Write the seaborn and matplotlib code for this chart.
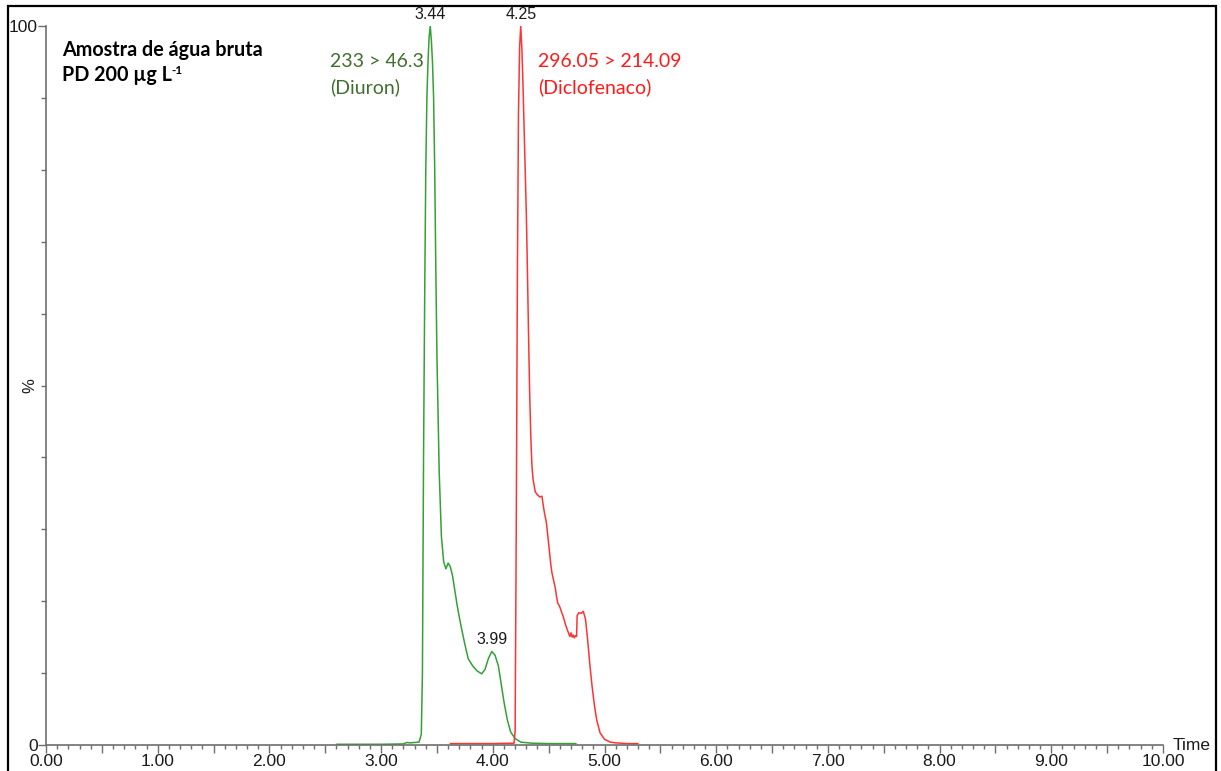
import numpy as np
import pandas as pd
import matplotlib
matplotlib.use("Agg")
import matplotlib.pyplot as plt
from matplotlib.ticker import MultipleLocator, FuncFormatter, FixedLocator
from matplotlib.patches import Rectangle
import seaborn as sns

# ---------------- data ----------------
diuron_time = [2.60, 2.80, 3.00, 3.20, 3.23, 3.26, 3.30, 3.34, 3.36, 3.37, 3.38,
               3.39, 3.40, 3.41, 3.42, 3.43, 3.44, 3.45, 3.46, 3.47, 3.48, 3.49,
               3.50, 3.52, 3.54, 3.56, 3.58, 3.60, 3.62, 3.64, 3.66, 3.68, 3.70,
               3.72, 3.75, 3.78, 3.82, 3.86, 3.90, 3.93, 3.96, 3.99, 4.02, 4.05,
               4.08, 4.10, 4.13, 4.16, 4.20, 4.25, 4.35, 4.50, 4.745]
diuron_pct = [0.1, 0.1, 0.1, 0.15, 0.35, 0.3, 0.35, 0.4, 1.5, 10, 40,
              62, 80, 90, 95, 98.5, 100, 98, 95, 90, 80, 66,
              54, 38, 29, 25.5, 24.5, 25.3, 24.8, 23.5, 21.5, 19.5, 17.8,
              16.2, 14.0, 12.0, 11.0, 10.3, 9.9, 10.5, 12.0, 13.0, 12.5, 11.0,
              8.0, 6.0, 3.5, 1.8, 0.9, 0.4, 0.25, 0.2, 0.2]

diclo_time = [3.62, 3.80, 4.00, 4.19, 4.20, 4.21, 4.22, 4.23, 4.24, 4.25, 4.26,
              4.27, 4.28, 4.29, 4.30, 4.31, 4.32, 4.33, 4.34, 4.35, 4.36, 4.38,
              4.40, 4.42, 4.44, 4.45, 4.46, 4.48, 4.50, 4.52, 4.53, 4.55, 4.56,
              4.57, 4.58, 4.60, 4.62, 4.63, 4.65, 4.67, 4.69, 4.70, 4.71, 4.72,
              4.73, 4.74, 4.75, 4.755, 4.77, 4.79, 4.81, 4.83, 4.85, 4.87, 4.89,
              4.91, 4.93, 4.96, 5.00, 5.05, 5.10, 5.20, 5.30]
diclo_pct = [0.2, 0.2, 0.2, 0.25, 2, 30, 65, 88, 97, 100, 97,
             92, 86, 80, 74, 66, 57, 49, 43, 39, 37, 35.2,
             34.8, 34.5, 34.6, 33.5, 32.5, 30.9, 28.0, 25.0, 23.9, 22.5, 21.8,
             20.7, 19.8, 19.2, 18.3, 17.9, 16.8, 15.9, 15.1, 15.6, 15.0, 15.3,
             14.9, 15.2, 15.1, 18.0, 18.4, 18.3, 18.6, 17.5, 14.5, 11.0, 8.0,
             5.5, 3.5, 1.7, 0.8, 0.4, 0.3, 0.2, 0.2]

peak_labels = [("3.44", 3.44, 100.0), ("4.25", 4.25, 100.0), ("3.99", 3.99, 13.0)]
x_major_labels = [f"{v:.2f}" for v in range(0, 11)]

# ---------------- figure ----------------
sns.set_style("ticks")
plt.rcParams['font.family'] = ['Liberation Sans', 'DejaVu Sans']

W, H = 1221, 771
fig = plt.figure(figsize=(W / 100, H / 100), dpi=100)
ax = fig.add_axes([46 / W, 26 / H, (1163 - 46) / W, (745 - 26) / H])

df_g = pd.DataFrame({"Time": diuron_time, "pct": diuron_pct})
df_r = pd.DataFrame({"Time": diclo_time, "pct": diclo_pct})
sns.lineplot(data=df_g, x="Time", y="pct", ax=ax, color="#35a035", lw=1.1,
             estimator=None, sort=False)
sns.lineplot(data=df_r, x="Time", y="pct", ax=ax, color="#ff3333", lw=1.1,
             estimator=None, sort=False)

ax.set_xlim(0, 10)
ax.set_ylim(0, 100)
for s in ["top", "right"]:
    ax.spines[s].set_visible(False)
for s in ["left", "bottom"]:
    ax.spines[s].set_color("#6e6e6e")
    ax.spines[s].set_linewidth(1.2)

ax.xaxis.set_major_locator(MultipleLocator(0.5))
ax.xaxis.set_minor_locator(MultipleLocator(0.1))
ax.xaxis.set_major_formatter(FuncFormatter(
    lambda v, p: x_major_labels[int(round(v))] if abs(v - round(v)) < 1e-6 else ""))
ax.yaxis.set_major_locator(FixedLocator([0, 100]))
ax.yaxis.set_minor_locator(MultipleLocator(10))
ax.yaxis.set_major_formatter(FuncFormatter(lambda v, p: f"{int(v)}"))

ax.tick_params(axis="both", which="both", bottom=True, left=True,
               top=False, right=False)
ax.tick_params(axis="x", which="major", direction="out", length=5.5, width=1,
               color="#6e6e6e", labelsize=12.5, pad=1, labelcolor="#1a1a1a")
ax.tick_params(axis="x", which="minor", direction="out", length=3, width=1,
               color="#6e6e6e")
ax.tick_params(axis="y", which="major", direction="out", length=6, width=1,
               color="#6e6e6e", labelsize=12.5, pad=0, labelcolor="#1a1a1a")
ax.tick_params(axis="y", which="minor", direction="out", length=3.5, width=1,
               color="#6e6e6e")
ax.set_xlabel("")
ax.set_ylabel("%", fontsize=12, color="#1a1a1a")
ax.yaxis.set_label_coords(-0.0075, 0.5)

# Time label
ax.text(1.009, 0.0, "Time", transform=ax.transAxes, fontsize=12.5,
        color="#1a1a1a", ha="left", va="center")

# peak labels
for lab, x, y in peak_labels:
    ax.annotate(lab, (x, y), xytext=(0, 3), textcoords="offset points",
                ha="center", va="bottom", fontsize=11.5, color="#1a1a1a",
                annotation_clip=False)

# compound annotations
cal = ['Lato', 'DejaVu Sans']
fig.text(330 / W, 1 - 67 / H, "233 > 46.3", family=cal, fontsize=14,
         color="#416f2f", ha="left", va="baseline")
fig.text(330 / W, 1 - 93 / H, "(Diuron)", family=cal, fontsize=14,
         color="#416f2f", ha="left", va="baseline")
fig.text(538 / W, 1 - 67 / H, "296.05 > 214.09", family=cal, fontsize=14,
         color="#ff1a1a", ha="left", va="baseline")
fig.text(538 / W, 1 - 93 / H, "(Diclofenaco)", family=cal, fontsize=14,
         color="#ff1a1a", ha="left", va="baseline")

fig.text(62 / W, 1 - 56 / H, "Amostra de água bruta", family=cal, fontsize=14.2,
         fontweight="bold", color="black", ha="left", va="baseline")
t2 = fig.text(62 / W, 1 - 81 / H, "PD 200 µg L", family=cal, fontsize=14.2,
              fontweight="bold", color="black", ha="left", va="baseline")
r = fig.canvas.get_renderer()
bb = t2.get_window_extent(renderer=r)
fig.text((bb.x1 - 1) / W, 1 - 74 / H, "-1", family=cal, fontsize=8.5,
         fontweight="bold", color="black", ha="left", va="baseline")

# outer frame
fig.patches.append(Rectangle((8 / W, -0.05), (1216 - 8) / W, 1.05 - 6 / H,
                             transform=fig.transFigure, fill=False,
                             edgecolor="black", linewidth=1.6))

fig.savefig("out.png", dpi=100)
